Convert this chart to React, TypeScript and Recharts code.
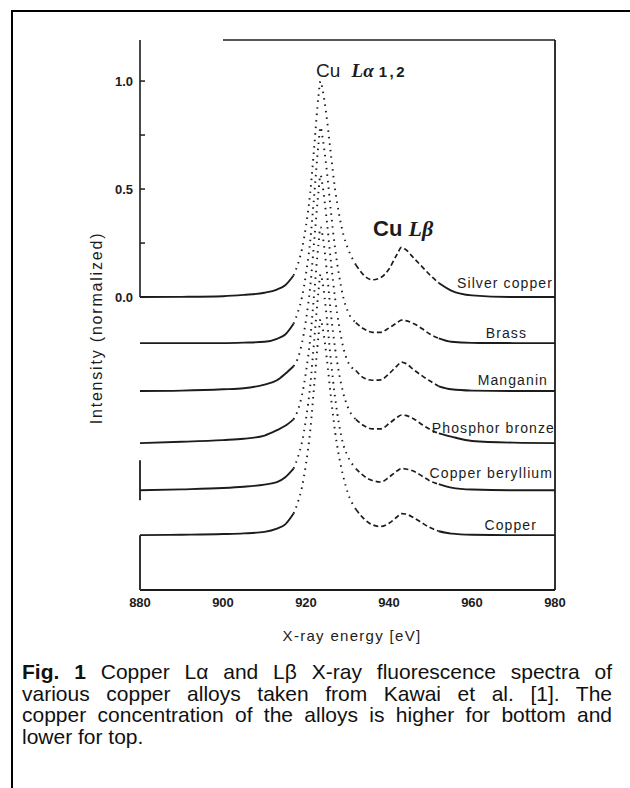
import { LineChart, Line, XAxis, YAxis, ReferenceLine } from 'recharts';

// energy grid (eV) shared by all spectra
const ENERGY = [
  880, 890, 900, 905, 910, 913, 915, 917, 918, 919,
  920, 921, 922, 923, 923.5, 924, 925, 926, 927, 928,
  929, 930, 932, 934, 936, 938, 940, 942, 943, 944,
  946, 948, 950, 952, 955, 960, 970, 980,
];

// normalized intensities (before vertical offset)
const SILVER_COPPER = [
  0, 0.001, 0.004, 0.01, 0.02, 0.035, 0.055, 0.1, 0.15, 0.22,
  0.33, 0.48, 0.7, 0.93, 1.0, 0.96, 0.83, 0.66, 0.5, 0.38,
  0.29, 0.23, 0.15, 0.1, 0.08, 0.09, 0.13, 0.2, 0.23, 0.22,
  0.18, 0.14, 0.1, 0.065, 0.03, 0.008, 0, 0,
];
const BRASS = [
  0, 0, 0, 0.002, 0.006, 0.02, 0.04, 0.09, 0.14, 0.21,
  0.32, 0.47, 0.69, 0.92, 1.0, 0.95, 0.8, 0.61, 0.44, 0.31,
  0.21, 0.15, 0.095, 0.065, 0.05, 0.05, 0.07, 0.095, 0.106, 0.104,
  0.09, 0.066, 0.04, 0.022, 0.006, 0.001, 0, 0,
];
const MANGANIN = [
  0, 0.002, 0.008, 0.013, 0.03, 0.05, 0.08, 0.115, 0.15, 0.22,
  0.33, 0.48, 0.7, 0.92, 1.0, 0.95, 0.79, 0.6, 0.43, 0.3,
  0.2, 0.14, 0.095, 0.06, 0.05, 0.052, 0.08, 0.118, 0.134, 0.128,
  0.098, 0.07, 0.045, 0.022, 0.008, 0.002, 0, 0,
];
const PHOSPHOR_BRONZE = [
  0, 0.006, 0.014, 0.02, 0.035, 0.06, 0.08, 0.11, 0.15, 0.22,
  0.33, 0.48, 0.7, 0.92, 1.0, 0.96, 0.8, 0.6, 0.44, 0.32,
  0.23, 0.17, 0.11, 0.08, 0.066, 0.066, 0.09, 0.12, 0.13, 0.128,
  0.112, 0.085, 0.062, 0.045, 0.03, 0.01, 0.002, 0,
];
const COPPER_BERYLLIUM = [
  0, 0.004, 0.01, 0.016, 0.026, 0.037, 0.06, 0.1, 0.15, 0.22,
  0.33, 0.48, 0.7, 0.92, 1.0, 0.96, 0.8, 0.6, 0.43, 0.3,
  0.21, 0.16, 0.1, 0.065, 0.045, 0.038, 0.06, 0.09, 0.1, 0.098,
  0.088, 0.065, 0.042, 0.028, 0.012, 0.003, 0, 0,
];
const COPPER = [
  0, 0.002, 0.005, 0.008, 0.015, 0.03, 0.05, 0.1, 0.15, 0.22,
  0.33, 0.48, 0.7, 0.92, 1.0, 0.96, 0.82, 0.64, 0.48, 0.36,
  0.27, 0.2, 0.12, 0.075, 0.048, 0.04, 0.055, 0.085, 0.1, 0.098,
  0.08, 0.056, 0.034, 0.018, 0.007, 0.002, 0, 0,
];

const ALLOYS = ['Silver copper', 'Brass', 'Manganin', 'Phosphor bronze', 'Copper beryllium', 'Copper'];
const SPECTRA = [SILVER_COPPER, BRASS, MANGANIN, PHOSPHOR_BRONZE, COPPER_BERYLLIUM, COPPER];
const OFFSETS = [0, -0.213, -0.435, -0.676, -0.894, -1.102];

const X_TICKS = [880, 900, 920, 940, 960, 980];
const Y_TICKS = [0, 0.25, 0.5, 0.75, 1.0];
const Y_LABELED = [0, 0.5, 1.0];

const Y_MIN = -1.356;
const Y_MAX = 1.19;
const INK = '#1c1c1c';
const FONT = '"Liberation Sans", Arial, Helvetica, sans-serif';

// split each spectrum into wings (solid), La region (dotted) and Lb region (dashed)
const rows = ENERGY.map((e, i) => {
  const row: Record<string, number | null> = { e };
  SPECTRA.forEach((s, k) => {
    const v = s[i] + OFFSETS[k];
    row['s' + k] = e <= 917 || e >= 952 ? v : null;
    row['a' + k] = e >= 917 && e <= 932 ? v : null;
    row['b' + k] = e >= 932 && e <= 952 ? v : null;
  });
  return row;
});

// label positions in page pixels
const LABEL_POS = [
  { right: 553, y: 283 },
  { right: 527, y: 333 },
  { right: 548, y: 380 },
  { right: 555, y: 428 },
  { right: 553, y: 473 },
  { right: 537, y: 525 },
];

const YTick = (props: any) => {
  const { y, payload } = props;
  const show = Y_LABELED.includes(payload.value);
  return (
    <g>
      <line x1={140} x2={145} y1={y} y2={y} stroke={INK} strokeWidth={1.5} />
      {show && (
        <text x={133} y={y} dy={4.5} textAnchor="end" fontSize={13} fontWeight="bold"
          fontFamily={FONT} fill={INK}>
          {payload.value.toFixed(1)}
        </text>
      )}
    </g>
  );
};

const XTick = (props: any) => {
  const { x, y, payload } = props;
  return (
    <text x={x} y={y} dy={9} textAnchor="middle" fontSize={13} fontWeight="bold"
      fontFamily={FONT} fill={INK}>
      {payload.value}
    </text>
  );
};

export default function App() {
  return (
    <div style={{ position: 'absolute', left: 0, top: 0, width: 630, height: 788, background: '#fff', overflow: 'hidden', fontFamily: FONT, color: INK }}>
      {/* figure frame */}
      <div style={{ position: 'absolute', left: 11, top: 10, width: 640, height: 800, borderLeft: '2px solid #000', borderTop: '2px solid #000' }} />

      <div style={{ position: 'absolute', left: 0, top: 0 }}>
        <LineChart width={630} height={660} data={rows} margin={{ top: 40, right: 75, bottom: 40, left: 80 }}>
          <XAxis dataKey="e" type="number" domain={[880, 980]} ticks={X_TICKS} tick={<XTick />}
            tickLine={false} axisLine={{ stroke: INK, strokeWidth: 2 }} height={30} allowDataOverflow />
          <YAxis type="number" domain={[Y_MIN, Y_MAX]} ticks={Y_TICKS} tick={<YTick />}
            tickLine={false} axisLine={false} width={60} allowDataOverflow />
          <ReferenceLine segment={[{ x: 880, y: 0 }, { x: 880, y: Y_MAX }]} stroke={INK} strokeWidth={1.6} />
          <ReferenceLine segment={[{ x: 900, y: Y_MAX }, { x: 980, y: Y_MAX }]} stroke={INK} strokeWidth={1.6} />
          <ReferenceLine segment={[{ x: 980, y: Y_MIN }, { x: 980, y: Y_MAX }]} stroke={INK} strokeWidth={1.8} />
          <ReferenceLine segment={[{ x: 880, y: Y_MIN }, { x: 880, y: OFFSETS[5] }]} stroke={INK} strokeWidth={1.8} />
          <ReferenceLine segment={[{ x: 880, y: -0.755 }, { x: 880, y: -0.94 }]} stroke={INK} strokeWidth={1.8} />
          {ALLOYS.map((name, k) => [
            <Line key={'s' + k} name={name} dataKey={'s' + k} type="monotone" stroke={INK} strokeWidth={1.9}
              dot={false} isAnimationActive={false} />,
            <Line key={'a' + k} name={name} dataKey={'a' + k} type="monotone" stroke={INK} strokeWidth={1.9}
              strokeDasharray="1.5 5" dot={false} isAnimationActive={false} />,
            <Line key={'b' + k} name={name} dataKey={'b' + k} type="monotone" stroke={INK} strokeWidth={1.7}
              strokeDasharray="5 3" dot={false} isAnimationActive={false} />,
          ])}
        </LineChart>
      </div>

      {/* peak annotations */}
      <div style={{ position: 'absolute', left: 316, top: 60, fontSize: 19, whiteSpace: 'nowrap' }}>
        Cu <span style={{ fontStyle: 'italic', fontWeight: 'bold', marginLeft: 6, fontFamily: '"Liberation Serif", serif' }}>Lα</span>
        <span style={{ fontWeight: 'bold', fontSize: 15, marginLeft: 5, letterSpacing: 2.5 }}>1,2</span>
      </div>
      <div style={{ position: 'absolute', left: 373, top: 216, fontSize: 22, fontWeight: 'bold', whiteSpace: 'nowrap' }}>
        Cu <span style={{ fontStyle: 'italic', fontFamily: '"Liberation Serif", serif' }}>Lβ</span>
      </div>

      {/* alloy labels */}
      {ALLOYS.map((name, k) => (
        <div key={name} style={{ position: 'absolute', right: 630 - LABEL_POS[k].right, top: LABEL_POS[k].y, transform: 'translateY(-50%)', fontSize: 14, letterSpacing: 1.1, whiteSpace: 'nowrap' }}>
          {name}
        </div>
      ))}

      {/* axis titles */}
      <div style={{ position: 'absolute', left: 97, top: 328, transform: 'translate(-50%, -50%) rotate(-90deg)', fontSize: 16, letterSpacing: 1.8, whiteSpace: 'nowrap' }}>
        Intensity (normalized)
      </div>
      <div style={{ position: 'absolute', left: 352, top: 635, transform: 'translate(-50%, -50%)', fontSize: 15, letterSpacing: 1.3, whiteSpace: 'nowrap' }}>
        X-ray energy [eV]
      </div>

      {/* caption */}
      <div style={{ position: 'absolute', left: 22, top: 661, width: 590, fontSize: 21, lineHeight: '21.7px', color: '#111' }}>
        <div style={{ textAlign: 'justify', textAlignLast: 'justify' }}>
          <b>Fig. 1</b> Copper Lα and Lβ X-ray fluorescence spectra of
        </div>
        <div style={{ textAlign: 'justify', textAlignLast: 'justify' }}>
          various copper alloys taken from Kawai et al. [1]. The
        </div>
        <div style={{ textAlign: 'justify', textAlignLast: 'justify' }}>
          copper concentration of the alloys is higher for bottom and
        </div>
        <div>lower for top.</div>
      </div>
    </div>
  );
}
